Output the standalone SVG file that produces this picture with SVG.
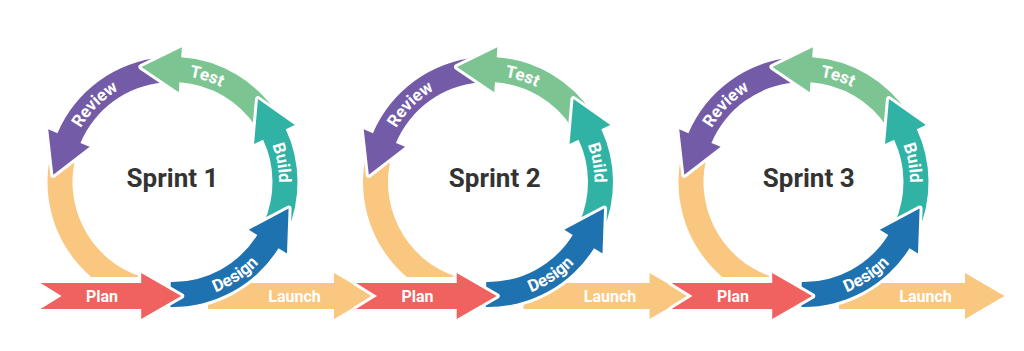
<svg xmlns="http://www.w3.org/2000/svg" xmlns:xlink="http://www.w3.org/1999/xlink" width="1024" height="351" viewBox="0 0 1024 351">
<style>
.seg{stroke:#ffffff;stroke-width:6;stroke-linejoin:round;paint-order:stroke fill}
.plan{fill:#F0625F}
.design{fill:#1F72B0}
.build{fill:#30B3A5}
.test{fill:#7CC592}
.review{fill:#735BA8}
.yellow{fill:#F9C77F}
.lbl{font-family:Roboto,"Liberation Sans",Arial,sans-serif;font-weight:700;font-size:17px;fill:#ffffff}
.bar{font-size:16px;text-anchor:middle}
.title{font-family:Roboto,"Liberation Sans",Arial,sans-serif;font-weight:700;font-size:26px;fill:#333333;text-anchor:middle}
</style>
<defs>
<path id="s-yellow" d="M -118.88 -38.63 A 125 125 0 0 0 -81.24 95 L -31.22 95 A 100 100 0 0 1 -95.11 -30.90 Z"/>
<path id="s-review" d="M -10.89 -124.52 A 125 125 0 0 0 -115.06 -48.84 L -124.27 -52.75 L -119.19 -7.14 L -82.85 -35.17 L -92.05 -39.07 A 100 100 0 0 1 -8.72 -99.62 Z"/>
<path id="s-test" d="M 104.83 -68.08 A 125 125 0 0 0 8.72 -124.70 L 9.42 -134.67 L -31.05 -114.95 L 6.28 -89.78 L 6.98 -99.76 A 100 100 0 0 1 83.87 -54.46 Z"/>
<path id="s-build" d="M 114.19 50.84 A 125 125 0 0 0 113.29 -52.83 L 122.35 -57.05 L 85.48 -82.89 L 81.57 -38.04 L 90.63 -42.26 A 100 100 0 0 1 91.36 40.67 Z"/>
<path id="s-design" d="M -2.18 124.98 A 125 125 0 0 0 106.01 66.24 L 114.49 71.54 L 116.08 26.55 L 76.32 47.69 L 84.80 52.99 A 100 100 0 0 1 -1.75 99.98 Z"/>
<path id="s-plan" d="M -132 101 L -31.3 101 L -31.3 91 L 8.7 114 L -31.3 137 L -31.3 127 L -132 127 L -111 114 Z"/>
<path id="s-launch" d="M 35.5 101 L 161.5 101 L 161.5 91 L 201 114 L 161.5 137 L 161.5 127 L 35.5 127 Z"/>
<path id="t-review" d="M -106.09 -9.28 A 106.5 106.5 0 0 1 -9.28 -106.09"/>
<path id="t-test" d="M -39.90 -98.74 A 106.5 106.5 0 0 1 90.32 -56.44"/>
<path id="t-build" d="M 68.46 -81.58 A 106.5 106.5 0 0 1 92.23 53.25"/>
<path id="t-design" d="M -12.39 117.85 A 118.5 118.5 0 0 0 113.91 32.66"/>
</defs>

<g id="connectors">
  <g id="launch-1" transform="translate(172.5,182)">
    <use href="#s-launch" class="yellow seg"/>
    <text class="lbl bar" x="122" y="119.5">Launch</text>
  </g>
  <g id="launch-2" transform="translate(488,182)">
    <use href="#s-launch" class="yellow seg"/>
    <text class="lbl bar" x="122" y="119.5">Launch</text>
  </g>
  <g id="launch-3" transform="translate(803.5,182)">
    <use href="#s-launch" class="yellow seg"/>
    <text class="lbl bar" x="122" y="119.5">Launch</text>
  </g>
</g>

<g id="sprint-1" transform="translate(172.5,182)">
  <g id="sprint-1-return"><use href="#s-yellow" class="yellow seg"/></g>
  <g id="sprint-1-review"><use href="#s-review" class="review seg"/><text class="lbl"><textPath href="#t-review" startOffset="50%" text-anchor="middle">Review</textPath></text></g>
  <g id="sprint-1-test"><use href="#s-test" class="test seg"/><text class="lbl"><textPath href="#t-test" startOffset="50%" text-anchor="middle">Test</textPath></text></g>
  <g id="sprint-1-build"><use href="#s-build" class="build seg"/><text class="lbl"><textPath href="#t-build" startOffset="50%" text-anchor="middle">Build</textPath></text></g>
  <g id="sprint-1-design"><use href="#s-design" class="design seg"/><text class="lbl"><textPath href="#t-design" startOffset="50%" text-anchor="middle">Design</textPath></text></g>
  <g id="sprint-1-plan"><use href="#s-plan" class="plan seg"/><text class="lbl bar" x="-70.5" y="119.5">Plan</text></g>
  <text class="title" x="0" y="4.7">Sprint 1</text>
</g>

<g id="sprint-2" transform="translate(488,182)">
  <g id="sprint-2-return"><use href="#s-yellow" class="yellow seg"/></g>
  <g id="sprint-2-review"><use href="#s-review" class="review seg"/><text class="lbl"><textPath href="#t-review" startOffset="50%" text-anchor="middle">Review</textPath></text></g>
  <g id="sprint-2-test"><use href="#s-test" class="test seg"/><text class="lbl"><textPath href="#t-test" startOffset="50%" text-anchor="middle">Test</textPath></text></g>
  <g id="sprint-2-build"><use href="#s-build" class="build seg"/><text class="lbl"><textPath href="#t-build" startOffset="50%" text-anchor="middle">Build</textPath></text></g>
  <g id="sprint-2-design"><use href="#s-design" class="design seg"/><text class="lbl"><textPath href="#t-design" startOffset="50%" text-anchor="middle">Design</textPath></text></g>
  <g id="sprint-2-plan"><use href="#s-plan" class="plan seg"/><text class="lbl bar" x="-70.5" y="119.5">Plan</text></g>
  <text class="title" x="6.7" y="4.7">Sprint 2</text>
</g>

<g id="sprint-3" transform="translate(803.5,182)">
  <g id="sprint-3-return"><use href="#s-yellow" class="yellow seg"/></g>
  <g id="sprint-3-review"><use href="#s-review" class="review seg"/><text class="lbl"><textPath href="#t-review" startOffset="50%" text-anchor="middle">Review</textPath></text></g>
  <g id="sprint-3-test"><use href="#s-test" class="test seg"/><text class="lbl"><textPath href="#t-test" startOffset="50%" text-anchor="middle">Test</textPath></text></g>
  <g id="sprint-3-build"><use href="#s-build" class="build seg"/><text class="lbl"><textPath href="#t-build" startOffset="50%" text-anchor="middle">Build</textPath></text></g>
  <g id="sprint-3-design"><use href="#s-design" class="design seg"/><text class="lbl"><textPath href="#t-design" startOffset="50%" text-anchor="middle">Design</textPath></text></g>
  <g id="sprint-3-plan"><use href="#s-plan" class="plan seg"/><text class="lbl bar" x="-70.5" y="119.5">Plan</text></g>
  <text class="title" x="5.2" y="4.7">Sprint 3</text>
</g>
</svg>
